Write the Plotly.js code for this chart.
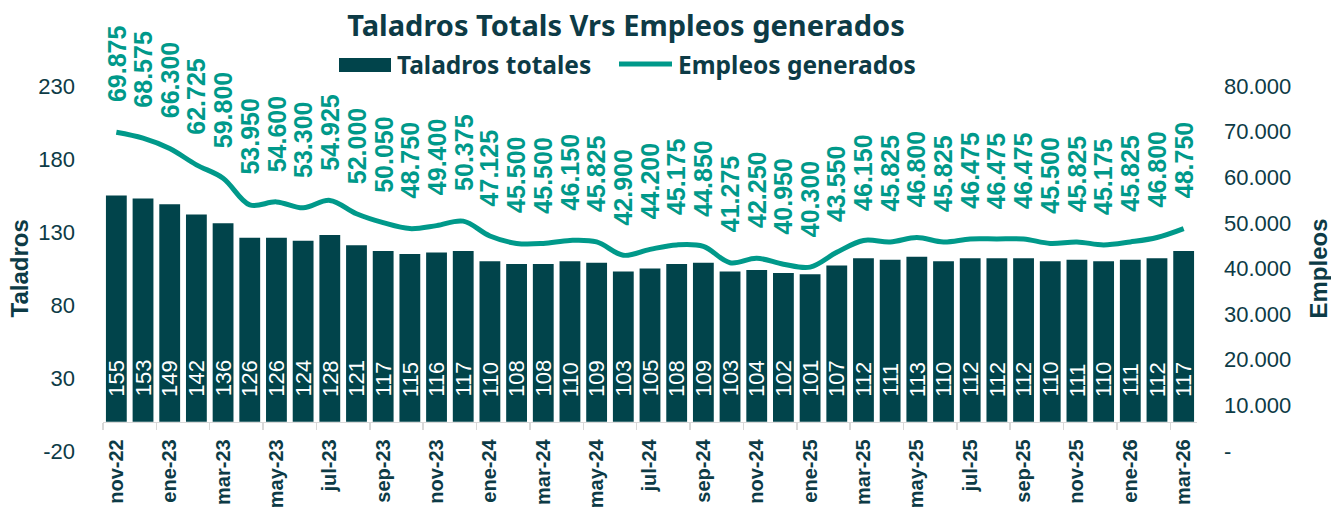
<!DOCTYPE html>
<html>
<head>
<meta charset="utf-8">
<script src="https://cdn.plot.ly/plotly-3.0.1.min.js"></script>
<style>html,body{margin:0;padding:0;background:#fff;}#chart{width:1331px;height:514px;}</style>
</head>
<body>
<div id="chart"></div>
<script>
const months = ["nov-22","dic-22","ene-23","feb-23","mar-23","abr-23","may-23","jun-23","jul-23","ago-23","sep-23","oct-23","nov-23","dic-23","ene-24","feb-24","mar-24","abr-24","may-24","jun-24","jul-24","ago-24","sep-24","oct-24","nov-24","dic-24","ene-25","feb-25","mar-25","abr-25","may-25","jun-25","jul-25","ago-25","sep-25","oct-25","nov-25","dic-25","ene-26","feb-26","mar-26"];
const taladros = [155,153,149,142,136,126,126,124,128,121,117,115,116,117,110,108,108,110,109,103,105,108,109,103,104,102,101,107,112,111,113,110,112,112,112,110,111,110,111,112,117];
const empleos = [69875,68575,66300,62725,59800,53950,54600,53300,54925,52000,50050,48750,49400,50375,47125,45500,45500,46150,45825,42900,44200,45175,44850,41275,42250,40950,40300,43550,46150,45825,46800,45825,46475,46475,46475,45500,45825,45175,45825,46800,48750];
const leftTicks = [-20,30,80,130,180,230];
const rightTicks = [0,10000,20000,30000,40000,50000,60000,70000,80000];

const DARK = "#0d3b46", BAR = "#01444b", LINE = "#00998a";
const fmt = v => v === 0 ? "-" : v.toLocaleString("de-DE");

const annotations = [];
months.forEach((m, i) => {
  annotations.push({x: m, y: 0, xref: "x", yref: "y", text: String(taladros[i]), showarrow: false,
    textangle: -90, yanchor: "bottom", xanchor: "center", yshift: 23,
    font: {family: "Liberation Sans, Arial", size: 22, color: "#ffffff"}});
  annotations.push({x: m, y: empleos[i], xref: "x", yref: "y2", text: fmt(empleos[i]), showarrow: false,
    textangle: -90, yanchor: "bottom", xanchor: "center", yshift: 28,
    font: {family: "Liberation Sans, Arial", size: 25, color: LINE, weight: "bold"}});
});
// axis titles
annotations.push({xref: "paper", yref: "paper", x: (19 - 103) / 1094, y: 0.5, text: "Taladros", showarrow: false,
  textangle: -90, xanchor: "center", yanchor: "middle", font: {family: "Liberation Sans, Arial", size: 24, color: DARK, weight: "bold"}});
annotations.push({xref: "paper", yref: "paper", x: (1318 - 103) / 1094, y: 0.5, text: "Empleos", showarrow: false,
  textangle: -90, xanchor: "center", yanchor: "middle", font: {family: "Liberation Sans, Arial", size: 24, color: DARK, weight: "bold"}});
// legend texts
const LF = {family: "Noto Sans", size: 24.5, color: DARK, weight: "bold"};
annotations.push({xref: "paper", yref: "paper", x: (395 - 103) / 1094, y: (451 - 65) / 365, text: "Taladros totales", showarrow: false,
  xanchor: "left", yanchor: "middle", font: LF});
annotations.push({xref: "paper", yref: "paper", x: (676 - 103) / 1094, y: (451 - 65) / 365, text: "Empleos generados", showarrow: false,
  xanchor: "left", yanchor: "middle", font: LF});

const shapes = [
  {type: "rect", xref: "paper", yref: "paper", x0: (339 - 103) / 1094, x1: (391 - 103) / 1094, y0: (451 - 72) / 365, y1: (451 - 58) / 365,
    fillcolor: BAR, line: {width: 0}},
  {type: "line", xref: "paper", yref: "paper", x0: (619 - 103) / 1094, x1: (672 - 103) / 1094, y0: (451 - 64) / 365, y1: (451 - 64) / 365,
    line: {color: LINE, width: 5}}
];

const traces = [
  {type: "bar", x: months, y: taladros, name: "Taladros totales", marker: {color: BAR}, yaxis: "y", hoverinfo: "skip"},
  {type: "scatter", mode: "lines", x: months, y: empleos, name: "Empleos generados", yaxis: "y2",
    line: {color: LINE, width: 5, shape: "spline", smoothing: 1}, hoverinfo: "skip"}
];

const layout = {
  width: 1331, height: 514,
  margin: {l: 103, r: 134, t: 86, b: 63},
  paper_bgcolor: "#fff", plot_bgcolor: "#fff",
  showlegend: false,
  bargap: 0.22,
  title: {text: "Taladros Totals Vrs Empleos generados", x: 626 / 1331, xanchor: "center", xref: "container",
    y: 1 - 26 / 514, yanchor: "middle", yref: "container",
    font: {family: "Noto Sans", size: 29, color: DARK, weight: "bold"}},
  xaxis: {type: "category", range: [-0.5, 40.5], anchor: "free", position: 20 / 250,
    showline: true, linecolor: "#d9d9d9", linewidth: 1.5, showgrid: false, zeroline: false,
    tickson: "boundaries", dtick: 2, ticks: "outside", ticklen: 7, tickcolor: "#d9d9d9", tickwidth: 1.5,
    tickangle: -90, ticklabelstandoff: 8,
    tickfont: {family: "Liberation Sans, Arial", size: 20, color: DARK, weight: "bold"}},
  yaxis: {range: [-20, 230], tickvals: leftTicks, ticktext: leftTicks.map(String), showgrid: false, zeroline: false,
    showline: false, ticks: "", ticklabelstandoff: 27,
    tickfont: {family: "Liberation Sans, Arial", size: 22, color: DARK}},
  yaxis2: {range: [0, 80000], overlaying: "y", side: "right", tickvals: rightTicks, ticktext: rightTicks.map(fmt),
    showgrid: false, zeroline: false, showline: false, ticks: "", ticklabelstandoff: 26,
    tickfont: {family: "Liberation Sans, Arial", size: 22, color: DARK}},
  annotations: annotations,
  shapes: shapes
};

Plotly.newPlot("chart", traces, layout, {displayModeBar: false, staticPlot: true});
</script>
</body>
</html>
